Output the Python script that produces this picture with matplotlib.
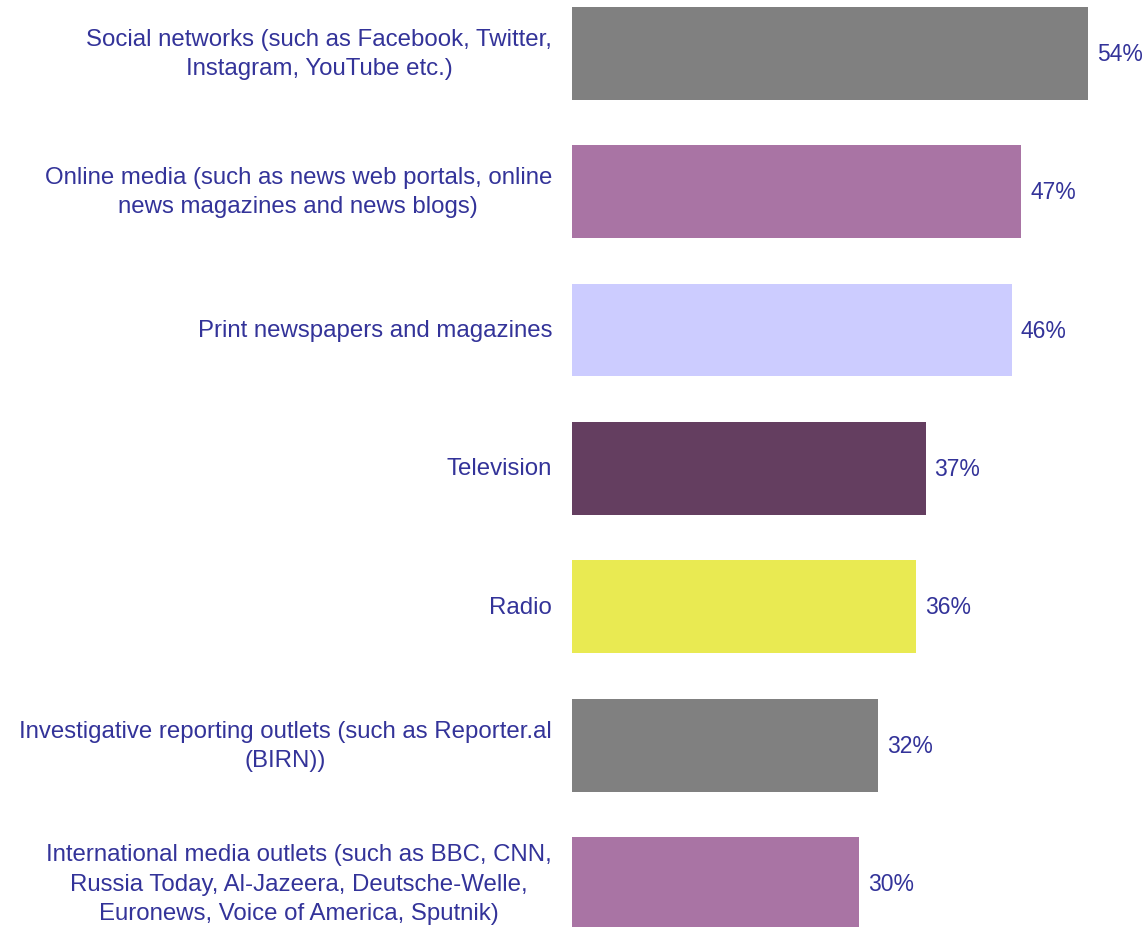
import matplotlib.pyplot as plt
from matplotlib.transforms import offset_copy

categories = [
    "Social networks (such as Facebook, Twitter,\nInstagram, YouTube etc.)",
    "Online media (such as news web portals, online\nnews magazines and news blogs)",
    "Print newspapers and magazines",
    "Television",
    "Radio",
    "Investigative reporting outlets (such as Reporter.al\n(BIRN))",
    "International media outlets (such as BBC, CNN,\nRussia Today, Al-Jazeera, Deutsche-Welle,\nEuronews, Voice of America, Sputnik)",
]
values = [54, 47, 46, 37, 36, 32, 30]
colors = ["#808080", "#A974A4", "#CCCCFF", "#643E60", "#E9EA52", "#808080", "#A974A4"]

text_color = "#333399"
plt.rcParams['font.family'] = ['Liberation Sans', 'DejaVu Sans']

fig = plt.figure(figsize=(11.48, 9.28), dpi=100)
ax = fig.add_axes([572 / 1148, 0, 576 / 1148, 1])

y = list(range(len(values)))
ax.barh(y, values, height=0.67, color=colors)
ax.set_xlim(0, 576 / 9.555)
ax.set_ylim(6 + 43.5 / 138.5, -54.5 / 138.5)
ax.axis('off')

# value labels just past the bar ends
val_tr = offset_copy(ax.transData, fig=fig, x=9, y=0, units='dots')
for yi, v in zip(y, values):
    ax.text(v, yi, f"{v}%", transform=val_tr, ha='left', va='center',
            fontsize=16.5, color=text_color)

# category labels to the left of the bars
cat_tr = offset_copy(ax.transData, fig=fig, x=-20, y=0, units='dots')
for yi, c in zip(y, categories):
    ax.text(0, yi, c, transform=cat_tr, ha='right', va='center',
            multialignment='center', fontsize=17.3, color=text_color,
            linespacing=1.43, clip_on=False)

fig.savefig("out.png", dpi=100)
